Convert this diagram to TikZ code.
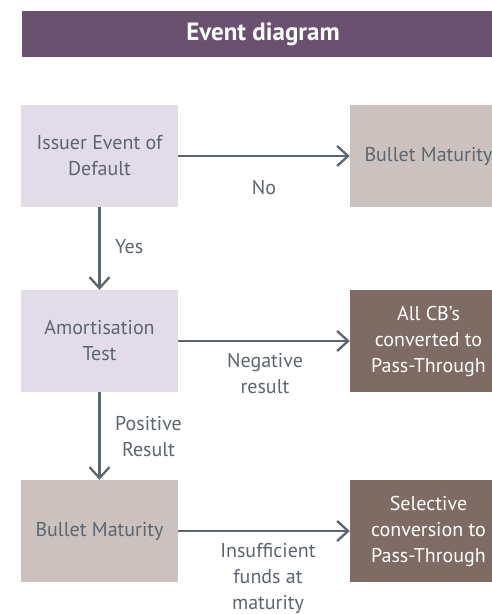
\documentclass[tikz,border=0pt]{standalone}
\usepackage{fontspec}
\setmainfont{PT Sans}
\usetikzlibrary{arrows.meta}
\definecolor{titlebar}{HTML}{6A5170}
\definecolor{lightpurple}{HTML}{E2DBE8}
\definecolor{taupe}{HTML}{CBC2BF}
\definecolor{darkbrown}{HTML}{7E6B63}
\definecolor{txtgray}{HTML}{5D666E}
\tikzset{
  box/.style={rectangle, minimum width=157pt, minimum height=102pt, inner sep=0pt,
    align=center, text=txtgray, font=\fontsize{20}{26}\selectfont},
  qbox/.style={box, fill=lightpurple},
  tbox/.style={box, fill=taupe},
  dbox/.style={box, fill=darkbrown, text=white},
  lbl/.style={align=center, text=txtgray, inner sep=0pt, font=\fontsize{20}{26}\selectfont},
  conn/.style={draw=txtgray, line width=2.3pt, -{Straight Barb[length=11pt,width=20pt]}}
}
\begin{document}
\begin{tikzpicture}[x=1pt,y=-1pt]
\clip (0,0) rectangle (492,614);
\fill[white] (0,0) rectangle (492,614);
\node[fill=titlebar, minimum width=482pt, minimum height=46pt, inner sep=0pt,
  text=white, font=\fontsize{25}{28}\selectfont\bfseries] (title) at (263,34) {Event diagram};

\node[qbox] (ied) at (99.5,156) {Issuer Event of\\Default};
\node[tbox] (bm1) at (428.5,156) {Bullet Maturity};
\node[qbox] (amt) at (99.5,341) {Amortisation\\Test};
\node[dbox] (pt1) at (428.5,341) {All CB’s\\converted to\\Pass-Through};
\node[tbox] (bm2) at (99.5,531) {Bullet Maturity};
\node[dbox] (pt2) at (428.5,531) {Selective\\conversion to\\Pass-Through};

\draw[conn] (ied.east) -- (bm1.west);
\draw[conn] (ied.south) -- (amt.north);
\draw[conn] (amt.east) -- (pt1.west);
\draw[conn] (amt.south) -- (bm2.north);
\draw[conn] (bm2.east) -- (pt2.west);

\node[lbl] (lno) at (264,188) {No};
\node[lbl, anchor=west] (lyes) at (115,247) {Yes};
\node[lbl] (lneg) at (265,374) {Negative\\result};
\node[lbl, anchor=west] (lpos) at (115,437) {Positive\\Result};
\node[lbl] (lins) at (268,578) {Insufficient\\funds at\\maturity};
\end{tikzpicture}
\end{document}
